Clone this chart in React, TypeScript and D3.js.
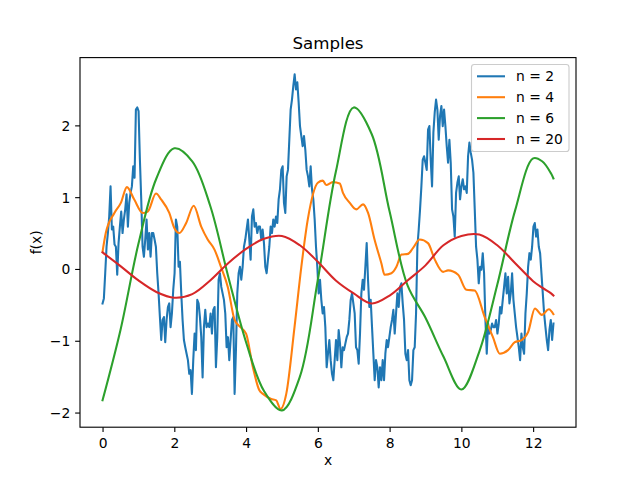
import React, { useEffect, useRef } from 'react';
import * as d3 from 'd3';

// sample values
const blueY = [
  -0.48, -0.41, -0.06, 0.31, 0.50, 0.73, 1.15, 0.55, 0.59, 0.34, 0.31, -0.08, 0.36, 0.59, 0.80, 0.50, 0.69, 0.83, 1.04, 0.59,
  0.92, 1.06, 1.15, 1.43, 1.27, 2.22, 2.25, 2.20, 1.52, 0.97, 0.31, 0.17, 0.41, 0.69, 0.27, 0.50, 0.17, 0.50, 0.50, 0.41,
  0.31, -0.06, -0.34, -0.67, -0.99, -0.71, -0.67, -1.02, -0.71, -0.53, -0.48, -0.81, -0.62, -0.29,
  -0.06, 0.69, 0.59, 0.03, 0.10, -0.34, -0.71, -0.99, -1.09, -1.18, -1.27, -1.46, -1.41, -1.74, -1.27, -0.90, -1.13, -0.43, -0.48, -0.67,
  -0.95, -1.51, -0.81, -0.57, -0.81, -0.76, -0.81, -0.62, -0.90, -0.57, -0.53, -1.37, -0.95, -0.15, -0.06, -0.25, -0.34, -0.43, -0.62, -1.09,
  -0.95, -1.27, -0.99, -0.71, -0.67, -1.74, -1.13, -0.34, -0.06, 0.03, -0.15, 0.03, 0.31, 0.41, 0.55, 0.69, 0.41, 0.13, 0.73, 0.83,
  0.59, 0.64, 0.50, 0.59, 0.59, 0.41, 0.55, 0.36, 0.03, -0.06, 0.13, 0.31, 0.59, 0.50, 0.69, 0.59, 0.73, 0.64, 0.97, 1.11,
  1.38, 1.43, 0.92, 0.78, 1.29, 1.38, 1.80, 2.22, 2.36, 2.55, 2.71, 2.50, 2.60, 2.32, 1.99, 1.85, 1.71, 1.85, 1.66, 1.38,
  1.29, 1.15, 1.43, 1.11, 0.97, 0.69, 0.31, 0.03, -0.34, -0.15, -0.43, -0.62, -0.53, -0.81, -1.37, -1.18, -0.99, -1.27, -1.46, -1.55,
  -1.27, -0.99, -1.27, -0.85, -1.04, -1.37, -1.09, -1.13, -1.04, -0.95, -0.90, -0.71, -0.43, -0.34, -0.48, -0.62, -1.09, -1.13, -1.32, -0.90,
  -0.34, -0.15, -0.29, 0.03, 0.36, -0.15, -0.53, -0.43, -0.81, -1.18, -1.55, -1.27, -1.37, -1.65, -1.37, -1.55, -1.27, -1.55, -1.18, -0.99,
  -1.09, -0.95, -0.81, -0.71, -0.57, -0.90, -0.62, -0.34, -0.53, -0.25, -0.20, -0.48, -0.71, -1.18, -1.27, -1.13, -1.55, -1.62, -1.55, -1.13,
  -1.09, -0.62, 0.31, 0.55, 0.83, 1.15, 1.52, 1.57, 1.48, 1.38, 1.94, 1.99, 1.52, 1.15, 1.90, 2.18, 2.36, 2.22, 1.80, 2.13,
  2.27, 1.99, 2.22, 1.99, 1.71, 1.48, 1.80, 1.48, 0.83, 0.73, 0.45, 1.06, 1.20, 1.29, 0.97, 1.15, 1.25, 1.11, 1.15, 1.06,
  1.57, 1.76, 1.62, 1.52, 1.34, 0.83, 0.31, 0.13, -0.20, 0.03, -0.01, 0.22, -0.06, -0.71, -1.18, -0.76, -0.90, -0.85, -0.76, -0.81,
  -0.81, -0.71, -0.90, -0.76, -0.53, -0.62, -0.43, -0.25, -0.06, -0.34, -0.11, -0.48, -0.34, -0.06, -0.43, -0.62, -0.81, -0.95, -1.09, -1.27,
  -0.90, -1.09, -1.18, -0.62, -0.34, 0.03, 0.22, 0.13, 0.31, 0.59, 0.64, 0.45, 0.55, 0.31, 0.22, -0.06, -0.34, -0.62, -0.81, -0.99,
  -1.13, -0.85, -0.71, -0.99, -0.76,
];

const orangeX = [
  0, 0.09, 0.33, 0.51, 0.68, 0.88, 1.12, 1.26, 1.49, 1.63, 1.86, 2.0, 2.14, 2.33, 2.54, 2.75, 2.93, 3.12, 3.30, 3.49,
  3.68, 3.82, 4.0, 4.19, 4.37, 4.47, 4.70, 4.84, 4.96, 5.12, 5.35, 5.54, 5.72, 6.0, 6.14, 6.23, 6.42, 6.61, 6.70, 6.89,
  7.07, 7.26, 7.40, 7.58, 7.77, 7.86, 8.05, 8.19, 8.33, 8.51, 8.65, 8.84, 9.07, 9.26, 9.49, 9.63, 9.91, 10.14, 10.37, 10.65,
  10.88, 11.07, 11.30, 11.49, 11.68, 11.86, 12.05, 12.24, 12.44, 12.566,
];
const orangeY = [
  0.24, 0.50, 0.78, 0.92, 1.14, 0.97, 0.78, 0.80, 1.05, 0.97, 0.78, 0.57, 0.50, 0.64, 0.88, 0.59, 0.41, 0.27, 0.03, -0.25,
  -0.71, -0.80, -0.90, -1.37, -1.69, -1.74, -1.81, -1.83, -1.95, -1.74, -0.81, 0.03, 0.69, 1.20, 1.23, 1.17, 1.21, 1.19, 1.06, 0.92,
  0.83, 0.90, 0.78, 0.41, 0.08, -0.08, -0.06, 0.03, 0.20, 0.21, 0.29, 0.41, 0.36, 0.13, -0.04, -0.02, -0.08, -0.29, -0.30, -0.67,
  -0.95, -1.18, -1.13, -1.02, -0.99, -0.88, -0.55, -0.64, -0.56, -0.63,
];

const smoothX = [0, 0.5, 1, 1.5, 2, 2.5, 3, 3.5, 4, 4.5, 5, 5.5, 6, 6.5, 7, 7.5, 8, 8.5, 9, 9.5, 10, 10.5, 11, 11.5, 12, 12.25, 12.5, 12.566];
const greenY = [-1.83, -0.85, 0.35, 1.26, 1.68, 1.50, 0.88, -0.10, -1.02, -1.70, -1.97, -1.50, -0.15, 1.35, 2.25, 1.88, 0.80, -0.23, -0.68, -1.22, -1.68, -1.15, -0.22, 0.82, 1.54, 1.50, 1.33, 1.26];
const redY = [0.23, 0.04, -0.16, -0.32, -0.40, -0.35, -0.16, 0.08, 0.28, 0.42, 0.46, 0.33, 0.10, -0.16, -0.34, -0.48, -0.37, -0.16, 0.05, 0.33, 0.46, 0.48, 0.33, 0.08, -0.17, -0.26, -0.34, -0.37];

const labels = ['n = 2', 'n = 4', 'n = 6', 'n = 20'];
const colors = ['#1f77b4', '#ff7f0e', '#2ca02c', '#d62728'];
const xTicks = [0, 2, 4, 6, 8, 10, 12];
const yTicks = [-2, -1, 0, 1, 2];

export default function App() {
  const ref = useRef<SVGSVGElement>(null);

  useEffect(() => {
    const svg = d3.select(ref.current);
    svg.selectAll('*').remove();

    const left = 80, right = 576, top = 57.6, bottom = 427.2;
    const font = 'DejaVu Sans, sans-serif';

    const blueX = d3.range(blueY.length).map(i => (i * 4 * Math.PI) / (blueY.length - 1));
    const series = [
      { x: blueX, y: blueY, curve: d3.curveLinear },
      { x: orangeX, y: orangeY, curve: d3.curveMonotoneX },
      { x: smoothX, y: greenY, curve: d3.curveCatmullRom },
      { x: smoothX, y: redY, curve: d3.curveCatmullRom },
    ];

    const xMax = 4 * Math.PI;
    const xPad = xMax * 0.05;
    const scaleX = d3.scaleLinear().domain([-xPad, xMax + xPad]).range([left, right]);

    const allY = series.flatMap(s => s.y);
    const [yMin, yMax] = d3.extent(allY) as [number, number];
    const yPad = (yMax - yMin) * 0.05;
    const scaleY = d3.scaleLinear().domain([yMin - yPad, yMax + yPad]).range([bottom, top]);

    svg.append('rect').attr('width', 640).attr('height', 480).attr('fill', 'white');

    const plot = svg.append('g');
    series.forEach((s, k) => {
      const line = d3.line<number>()
        .x((d, i) => scaleX(s.x[i]))
        .y(d => scaleY(d))
        .curve(s.curve);
      plot.append('path')
        .attr('d', line(s.y))
        .attr('fill', 'none')
        .attr('stroke', colors[k])
        .attr('stroke-width', 2.08)
        .attr('stroke-linejoin', 'round')
        .attr('stroke-linecap', 'square');
    });

    // axes
    const fmt = d3.format('d');
    const xAxis = d3.axisBottom(scaleX).tickValues(xTicks).tickFormat(d => fmt(d as number))
      .tickSize(4.86).tickPadding(6.1).tickSizeOuter(0);
    const gx = svg.append('g').attr('transform', 'translate(0,' + bottom + ')').call(xAxis);
    const yAxis = d3.axisLeft(scaleY).tickValues(yTicks).tickFormat(d => fmt(d as number))
      .tickSize(4.86).tickPadding(4.86).tickSizeOuter(0);
    const gy = svg.append('g').attr('transform', 'translate(' + left + ',0)').call(yAxis);
    [gx, gy].forEach(g => {
      g.select('.domain').remove();
      g.selectAll('line').attr('stroke', 'black').attr('stroke-width', 1.11);
      g.selectAll('text').attr('fill', 'black').style('font-family', font).style('font-size', '13.89px');
    });
    gy.selectAll('text').attr('dy', '0.36em');

    svg.append('rect')
      .attr('x', left).attr('y', top)
      .attr('width', right - left).attr('height', bottom - top)
      .attr('fill', 'none').attr('stroke', 'black').attr('stroke-width', 1.11);

    svg.append('text')
      .attr('x', (left + right) / 2).attr('y', 49.3)
      .attr('text-anchor', 'middle')
      .style('font-family', font).style('font-size', '16.67px')
      .text('Samples');

    svg.append('text')
      .attr('x', (left + right) / 2).attr('y', 465)
      .attr('text-anchor', 'middle')
      .style('font-family', font).style('font-size', '13.89px')
      .text('x');

    svg.append('text')
      .attr('transform', 'translate(41,' + (top + bottom) / 2 + ') rotate(-90)')
      .attr('text-anchor', 'middle')
      .style('font-family', font).style('font-size', '13.89px')
      .text('f(x)');

    // legend
    const legend = svg.append('g');
    legend.append('rect')
      .attr('x', 471.5).attr('y', 64.5).attr('width', 97.5).attr('height', 87)
      .attr('rx', 2.8)
      .attr('fill', 'white').attr('fill-opacity', 0.8)
      .attr('stroke', '#cccccc').attr('stroke-width', 1.11);
    labels.forEach((label, i) => {
      const cy = 76.3 + i * 20.9;
      legend.append('line')
        .attr('x1', 477).attr('x2', 505).attr('y1', cy).attr('y2', cy)
        .attr('stroke', colors[i]).attr('stroke-width', 2.08);
      legend.append('text')
        .attr('x', 516).attr('y', cy + 5)
        .style('font-family', font).style('font-size', '13.89px')
        .text(label);
    });
  }, []);

  return <svg ref={ref} width={640} height={480} style={{ position: 'absolute', left: 0, top: 0 }} />;
}
